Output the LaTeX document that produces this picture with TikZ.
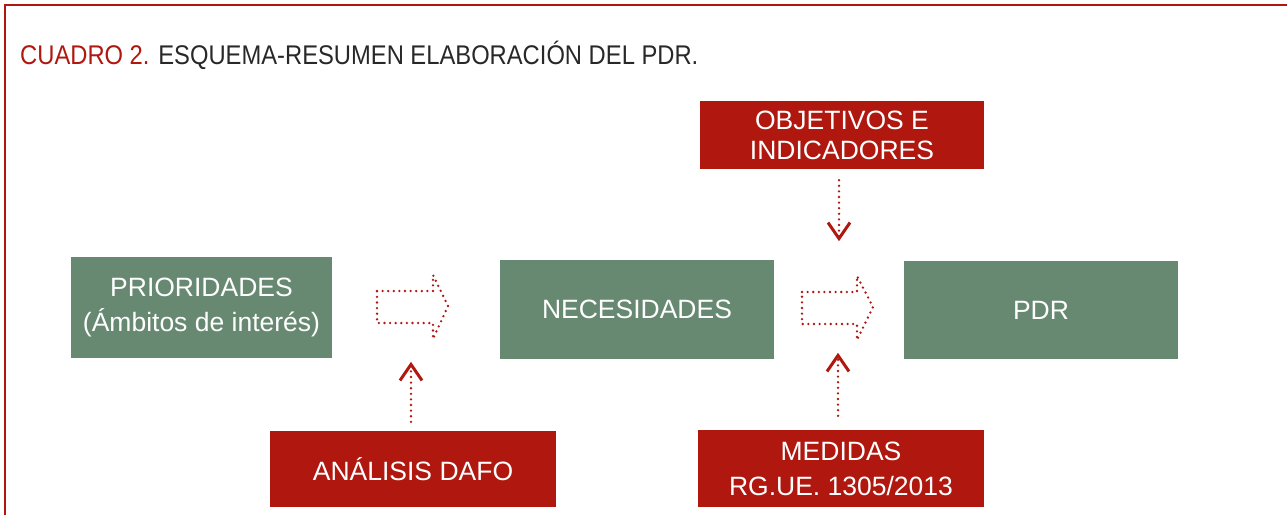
\documentclass[tikz,border=0pt]{standalone}
\usepackage{fontspec}
\setmainfont{Liberation Sans}
\newfontfamily\titlefont{Liberation Sans}[FakeStretch=0.88]
\usetikzlibrary{arrows.meta}
\definecolor{cuadrored}{RGB}{176,23,15}
\definecolor{sage}{RGB}{103,137,113}
\definecolor{titlegray}{RGB}{40,40,40}
\tikzset{
  greenbox/.style={fill=sage,text=white,inner sep=0pt,align=center,font=\fontsize{26.5}{35}\selectfont},
  redbox/.style={fill=cuadrored,text=white,inner sep=0pt,align=center,font=\fontsize{26.5}{35}\selectfont},
  dotline/.style={cuadrored,line width=2.6pt,line cap=round,dash pattern=on 0pt off 5.6pt},
  vline/.style={dotline,-{Straight Barb[length=16pt,width=22pt,line width=3pt]}}
}
\begin{document}
\begin{tikzpicture}[x=1pt,y=-1pt]
\useasboundingbox (0,0) rectangle (1287,515);
% frame
\draw[cuadrored,line width=2pt] (4.5,515) -- (4.5,4.5) -- (1287,4.5);
\node[anchor=base west,inner sep=0pt,font=\titlefont\fontsize{27}{30}\selectfont,text=titlegray] (title) at (20,64)
  {\textcolor{cuadrored}{CUADRO 2.} ESQUEMA-RESUMEN ELABORACIÓN DEL PDR.};
% boxes
\node[greenbox,minimum width=261pt,minimum height=101pt] (prio) at (201.5,307.5) {PRIORIDADES\\(Ámbitos de interés)};
\node[greenbox,minimum width=274pt,minimum height=99pt] (nec) at (637,309.5) {NECESIDADES};
\node[greenbox,minimum width=274pt,minimum height=98pt] (pdr) at (1041,310) {PDR};
\node[redbox,minimum width=284pt,minimum height=68pt,font=\fontsize{26.5}{30}\selectfont] (obj) at (842,135) {OBJETIVOS E\\INDICADORES};
\node[redbox,minimum width=286pt,minimum height=76pt] (dafo) at (413,469) {ANÁLISIS DAFO};
\node[redbox,minimum width=286pt,minimum height=77pt] (med) at (841,468.5) {MEDIDAS\\RG.UE. 1305/2013};
% block arrows
\draw[dotline] (377,291) -- (433,291) -- (433,275) -- (448,306) -- (433,339) -- (433,323) -- (377,323) -- cycle;
\draw[dotline] (802,292) -- (857,292) -- (857,276) -- (873,307) -- (857,340) -- (857,324) -- (802,324) -- cycle;
% vertical arrows
\draw[vline,shorten <=11pt] ([xshift=-3pt]obj.south) -- ++(0,72);
\draw[vline,shorten <=14pt] ([xshift=-3pt]med.north) -- ++(0,-77);
\draw[vline,shorten <=9pt] ([xshift=-2pt]dafo.north) -- ++(0,-69);
\end{tikzpicture}
\end{document}
